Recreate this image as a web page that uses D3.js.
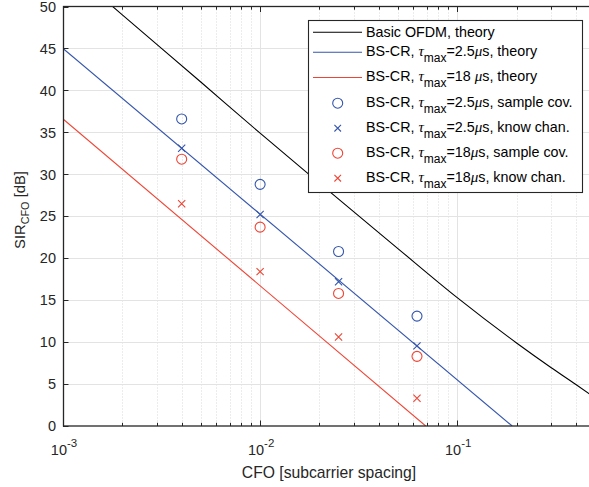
<!DOCTYPE html>
<meta charset="utf-8">

<!-- Load d3.js -->
<script src="https://d3js.org/d3.v7.min.js"></script>

<!-- Create a div where the graph will take place -->
<div id="sir_chart"></div>
<style>
  body {
        margin: 0;
        background-color: #ffffff;
        font-family: 'Liberation Sans', Arial, sans-serif;
      }
  svg { display: block; }
</style>
<script>

var colors = {
  "axis": "#262626",
  "grid": "#e3e3e3",
  "minor_grid": "#d9d9d9",
  "ofdm": "#000000",
  "tau25": "#3556ad",
  "tau18": "#ee4434"
};

// axis ticks
var xTicks = [0.001, 0.01, 0.1];
var xTickExp = ["-3", "-2", "-1"];
var yTicks = [0, 5, 10, 15, 20, 25, 30, 35, 40, 45, 50];

// theory curves
var ofdmCfo = [0.001, 0.002, 0.005, 0.01, 0.02, 0.05, 0.1, 0.2, 0.3, 0.4, 0.5];
var ofdmTheory = [55.1, 49.0, 41.0, 34.9, 28.95, 21.15, 15.3, 9.9, 6.95, 4.95, 3.35];
var tau25Cfo = [0.001, 0.19];
var tau25Theory = [45.0, 0];
var tau18Cfo = [0.001, 0.0692];
var tau18Theory = [36.6, 0];

// simulated points
var simCfo = [0.004, 0.01, 0.025, 0.0625];
var tau25Sample = [36.6, 28.8, 20.8, 13.1];
var tau25Known = [33.1, 25.2, 17.2, 9.55];
var tau18Sample = [31.8, 23.7, 15.8, 8.3];
var tau18Known = [26.5, 18.4, 10.6, 3.3];

// legend text: [text, kind]  kind: "" plain, "g" greek, "s" subscript
var legendText = [
  [["Basic OFDM, theory", ""]],
  [["BS-CR, ", ""], ["\u03c4", "g"], ["max", "s"], ["=2.5", ""], ["\u03bc", "g"], ["s, theory", ""]],
  [["BS-CR, ", ""], ["\u03c4", "g"], ["max", "s"], ["=18 ", ""], ["\u03bc", "g"], ["s, theory", ""]],
  [["BS-CR, ", ""], ["\u03c4", "g"], ["max", "s"], ["=2.5", ""], ["\u03bc", "g"], ["s, sample cov.", ""]],
  [["BS-CR, ", ""], ["\u03c4", "g"], ["max", "s"], ["=2.5", ""], ["\u03bc", "g"], ["s, know chan.", ""]],
  [["BS-CR, ", ""], ["\u03c4", "g"], ["max", "s"], ["=18", ""], ["\u03bc", "g"], ["s, sample cov.", ""]],
  [["BS-CR, ", ""], ["\u03c4", "g"], ["max", "s"], ["=18", ""], ["\u03bc", "g"], ["s, know chan.", ""]]
];

var W = 589, H = 487;
var plot = {left: 63, top: 6.5, right: 595, bottom: 426};

var svg = d3.select("#sir_chart")
      .append("svg")
      .attr("width", W)
      .attr("height", H);

var x = d3.scaleLog().domain([0.001, 0.5]).range([plot.left, plot.right]);
var y = d3.scaleLinear().domain([0, 50]).range([plot.bottom, plot.top]);

// minor x positions
var xMinor = [];
[0.001, 0.01, 0.1].forEach(function(d){
  for (var k = 2; k <= 9; k++){
    var v = +(k * d).toPrecision(3);
    if (v <= 0.5) xMinor.push(v);
  }
});

svg.append("defs").append("clipPath").attr("id", "clip")
  .append("rect")
    .attr("x", plot.left).attr("y", plot.top)
    .attr("width", plot.right - plot.left).attr("height", plot.bottom - plot.top);

// grid
var grid = svg.append("g");
grid.selectAll(".minor")
  .data(xMinor)
  .enter().append("line")
    .attr("x1", function(d){ return Math.round(x(d)) + 0.5; })
    .attr("x2", function(d){ return Math.round(x(d)) + 0.5; })
    .attr("y1", plot.top).attr("y2", plot.bottom)
    .style("stroke", colors["minor_grid"])
    .style("stroke-dasharray", "1,2");

grid.selectAll(".xmajor")
  .data(xTicks.slice(1))
  .enter().append("line")
    .attr("x1", function(d){ return Math.round(x(d)) + 0.5; })
    .attr("x2", function(d){ return Math.round(x(d)) + 0.5; })
    .attr("y1", plot.top).attr("y2", plot.bottom)
    .style("stroke", colors["grid"]);

grid.selectAll(".ymajor")
  .data(yTicks.slice(1, -1))
  .enter().append("line")
    .attr("x1", plot.left).attr("x2", plot.right)
    .attr("y1", function(d){ return Math.round(y(d)) + 0.5; })
    .attr("y2", function(d){ return Math.round(y(d)) + 0.5; })
    .style("stroke", colors["grid"])
    .style("stroke-width", 1.2);

// curves
var lines = svg.append("g").attr("clip-path", "url(#clip)");
var lineGen = d3.line()
  .x(function(d){ return x(d[0]); })
  .y(function(d){ return y(d[1]); });

var curves = [
  {cfo: ofdmCfo, val: ofdmTheory, color: colors["ofdm"], curve: d3.curveMonotoneX},
  {cfo: tau25Cfo, val: tau25Theory, color: colors["tau25"], curve: d3.curveLinear},
  {cfo: tau18Cfo, val: tau18Theory, color: colors["tau18"], curve: d3.curveLinear}
];
curves.forEach(function(c){
  lines.append("path")
    .datum(d3.zip(c.cfo, c.val))
    .attr("d", lineGen.curve(c.curve))
    .style("fill", "none")
    .style("stroke", c.color)
    .style("stroke-width", 1.1);
});

function drawCircles(vals, color){
  lines.selectAll(null)
    .data(d3.zip(simCfo, vals))
    .enter().append("circle")
      .attr("cx", function(d){ return x(d[0]); })
      .attr("cy", function(d){ return y(d[1]); })
      .attr("r", 5)
      .style("fill", "none")
      .style("stroke", color)
      .style("stroke-width", 1.1);
}
function drawCrosses(vals, color){
  lines.selectAll(null)
    .data(d3.zip(simCfo, vals))
    .enter().append("path")
      .attr("d", function(d){ return crossPath(x(d[0]), y(d[1]), 3.6); })
      .style("fill", "none")
      .style("stroke", color)
      .style("stroke-width", 1.1);
}
function crossPath(cx, cy, s){
  return "M" + (cx - s) + "," + (cy - s) + "L" + (cx + s) + "," + (cy + s) +
         "M" + (cx - s) + "," + (cy + s) + "L" + (cx + s) + "," + (cy - s);
}

drawCircles(tau25Sample, colors["tau25"]);
drawCrosses(tau25Known, colors["tau25"]);
drawCircles(tau18Sample, colors["tau18"]);
drawCrosses(tau18Known, colors["tau18"]);

// axes box and ticks
var ax = svg.append("g").style("stroke", colors["axis"]).style("fill", "none");
ax.append("rect")
  .attr("x", plot.left + 0.5).attr("y", plot.top)
  .attr("width", plot.right - plot.left).attr("height", plot.bottom - plot.top)
  .style("stroke-width", 1.3);

xTicks.concat(xMinor).forEach(function(d){
  var major = xTicks.indexOf(d) >= 0;
  var len = major ? 5.5 : 3.2;
  var px = Math.round(x(d)) + 0.5;
  ax.append("line").attr("x1", px).attr("x2", px)
    .attr("y1", plot.bottom).attr("y2", plot.bottom - len);
  ax.append("line").attr("x1", px).attr("x2", px)
    .attr("y1", plot.top).attr("y2", plot.top + len);
});
yTicks.forEach(function(d){
  var py = Math.round(y(d)) + 0.5;
  ax.append("line").attr("x1", plot.left).attr("x2", plot.left + 5.5)
    .attr("y1", py).attr("y2", py);
});

// tick labels
var labels = svg.append("g").style("fill", colors["axis"]).style("font-size", "14.5px");
labels.selectAll(".ylab")
  .data(yTicks)
  .enter().append("text")
    .attr("x", 56)
    .attr("y", function(d){ return y(d) + 5.2; })
    .attr("text-anchor", "end")
    .text(function(d){ return d; });

xTicks.forEach(function(d, i){
  var t = labels.append("text")
    .attr("x", x(d) + 1)
    .attr("y", 455)
    .attr("text-anchor", "middle");
  t.append("tspan").text("10");
  t.append("tspan").attr("dy", -8).style("font-size", "11.5px").text(xTickExp[i]);
});

// axis titles
svg.append("text")
  .attr("x", (plot.left + plot.right) / 2)
  .attr("y", 478)
  .attr("text-anchor", "middle")
  .style("font-size", "15.7px")
  .style("fill", colors["axis"])
  .text("CFO [subcarrier spacing]");

var yl = svg.append("text")
  .attr("transform", "translate(25,210) rotate(-90)")
  .attr("text-anchor", "middle")
  .style("font-size", "14.8px")
  .style("fill", colors["axis"]);
yl.append("tspan").text("SIR");
yl.append("tspan").attr("dy", 4).style("font-size", "10.8px").text("CFO");
yl.append("tspan").attr("dy", -4).text(" [dB]");

// legend
var leg = {left: 308.5, top: 20.5, right: 582.5, bottom: 192.5};
var legendRowY = [32.3, 50.8, 76, 101.7, 126.7, 151.7, 176.7];
var legendSymbol = [
  {type: "line", color: colors["ofdm"]},
  {type: "line", color: colors["tau25"]},
  {type: "line", color: colors["tau18"]},
  {type: "circle", color: colors["tau25"]},
  {type: "cross", color: colors["tau25"]},
  {type: "circle", color: colors["tau18"]},
  {type: "cross", color: colors["tau18"]}
];

var lg = svg.append("g");
lg.append("rect")
  .attr("x", leg.left).attr("y", leg.top)
  .attr("width", leg.right - leg.left).attr("height", leg.bottom - leg.top)
  .style("fill", "#ffffff")
  .style("stroke", colors["axis"])
  .style("stroke-width", 1.1);

legendText.forEach(function(parts, i){
  var cy = legendRowY[i];
  var sym = legendSymbol[i];
  var sy = cy + (i === 0 ? 0 : 1.5);
  if (sym.type === "line"){
    lg.append("line")
      .attr("x1", 313).attr("x2", 362)
      .attr("y1", sy).attr("y2", sy)
      .style("stroke", sym.color).style("stroke-width", 1.1);
  } else if (sym.type === "circle"){
    lg.append("circle")
      .attr("cx", 337.7).attr("cy", sy).attr("r", 5)
      .style("fill", "none").style("stroke", sym.color).style("stroke-width", 1.1);
  } else {
    lg.append("path")
      .attr("d", crossPath(337.7, sy, 3.3))
      .style("fill", "none").style("stroke", sym.color).style("stroke-width", 1.1);
  }

  var t = lg.append("text")
    .attr("x", 366)
    .attr("y", cy + 5)
    .style("font-size", "14.3px")
    .style("fill", "#000000");
  var shift = 0;
  parts.forEach(function(p){
    var ts = t.append("tspan").text(p[0]);
    if (p[1] === "g"){
      ts.style("font-family", "'Liberation Serif', serif")
        .style("font-style", "italic")
        .style("font-size", "15px");
    }
    if (p[1] === "s"){
      ts.attr("dy", 6).style("font-size", "12px");
      shift = 6;
    } else if (shift){
      ts.attr("dy", -shift);
      shift = 0;
    }
  });
});

</script>
